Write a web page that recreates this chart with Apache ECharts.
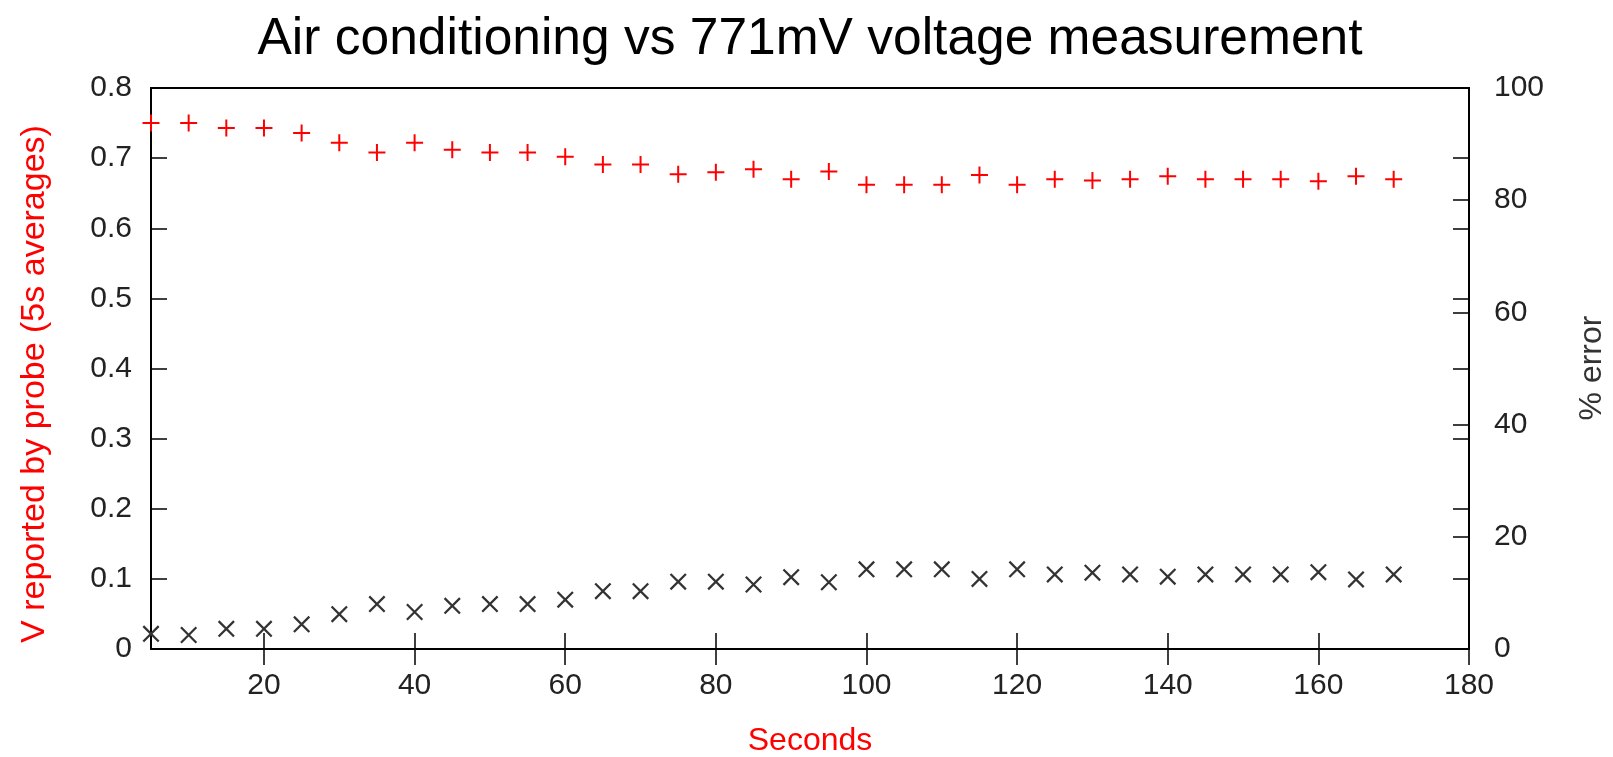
<!DOCTYPE html>
<html>
<head>
<meta charset="utf-8">
<script src="https://cdn.jsdelivr.net/npm/echarts@6/dist/echarts.min.js"></script>
<style>
html,body{margin:0;padding:0;background:#fff;}
#chart{width:1613px;height:757px;}
</style>
</head>
<body>
<div id="chart"></div>
<script>
// ---- data ----
var seconds = [5,10,15,20,25,30,35,40,45,50,55,60,65,70,75,80,85,90,95,100,105,110,115,120,125,130,135,140,145,150,155,160,165,170];
var voltage = [0.750,0.750,0.743,0.743,0.736,0.722,0.708,0.722,0.712,0.708,0.708,0.702,0.691,0.691,0.677,0.680,0.684,0.670,0.681,0.662,0.662,0.662,0.676,0.662,0.670,0.668,0.670,0.674,0.670,0.670,0.670,0.667,0.674,0.670];
var errorPct = [2.7,2.5,3.6,3.6,4.4,6.2,8.0,6.6,7.7,8.0,8.0,8.8,10.3,10.3,12.0,12.0,11.5,12.8,11.9,14.2,14.2,14.2,12.5,14.2,13.3,13.6,13.3,12.9,13.3,13.3,13.3,13.7,12.4,13.3];
var xTicks = [20,40,60,80,100,120,140,160,180];
var titleText = 'Air conditioning vs 771mV voltage measurement';
var xName = 'Seconds';
var yName = 'V reported by probe (5s averages)';
var y2Name = '% error';

var FONT = 'Liberation Sans, Arial, sans-serif';
var PLUS = 'path://M0,7.5 H17 V9.5 H0 Z M7.5,0 H9.5 V17 H7.5 Z';
var CROSS = 'path://M0,1.5 L1.5,0 L16,14.5 L14.5,16 Z M14.5,0 L16,1.5 L1.5,16 L0,14.5 Z';

var chart = echarts.init(document.getElementById('chart'), null, {renderer:'canvas'});
var tickStyle = {color:'#000', width:1.5};
var labelStyle = {color:'#222', fontSize:30, fontFamily:FONT};

chart.setOption({
  animation:false,
  backgroundColor:'#fff',
  title:{text:titleText, left:810, textAlign:'center', top:14, padding:0,
    textStyle:{fontSize:51.5, fontWeight:'normal', color:'#000', fontFamily:FONT}},
  grid:{left:151, right:144, top:88, bottom:108, show:true, borderColor:'#000', borderWidth:2, backgroundColor:'transparent'},
  xAxis:[
    {type:'value', min:5, max:180, position:'bottom',
     axisLine:{show:false}, splitLine:{show:false},
     axisTick:{show:true, inside:true, length:16, lineStyle:tickStyle, customValues:xTicks},
     axisLabel:Object.assign({margin:22, customValues:xTicks}, labelStyle)},
    {type:'value', min:5, max:180, position:'top',
     axisLine:{show:false}, splitLine:{show:false},
     axisTick:{show:true, inside:true, length:16, lineStyle:tickStyle, customValues:xTicks},
     axisLabel:{show:false}}
  ],
  yAxis:[
    {type:'value', min:0, max:0.8, interval:0.1, position:'left',
     axisLine:{show:false}, splitLine:{show:false},
     axisTick:{show:true, inside:true, length:16, lineStyle:tickStyle},
     axisLabel:Object.assign({margin:19, formatter:function(v){return v===0?'0':v.toFixed(1);}}, labelStyle)},
    {type:'value', min:0, max:100, interval:20, position:'right',
     axisLine:{show:false}, splitLine:{show:false},
     axisTick:{show:true, inside:true, length:16, lineStyle:tickStyle},
     axisLabel:Object.assign({margin:25}, labelStyle)},
    {type:'value', min:0, max:0.8, interval:0.1, position:'right',
     axisLine:{show:false}, splitLine:{show:false},
     axisTick:{show:true, inside:true, length:16, lineStyle:tickStyle},
     axisLabel:{show:false}}
  ],
  graphic:[
    {type:'text', x:810, y:741, style:{text:xName, fill:'#ff0000', font:'32px '+FONT, textAlign:'center', textVerticalAlign:'middle'}},
    {type:'text', x:35, y:384, rotation:Math.PI/2, style:{text:yName, fill:'#ff0000', font:'34px '+FONT, textAlign:'center', textVerticalAlign:'middle'}},
    {type:'text', x:1592, y:368, rotation:Math.PI/2, style:{text:y2Name, fill:'#333', font:'32px '+FONT, textAlign:'center', textVerticalAlign:'middle'}}
  ],
  series:[
    {type:'scatter', name:'V', xAxisIndex:0, yAxisIndex:0, clip:false,
     symbol:PLUS, symbolSize:17, itemStyle:{color:'#ff0000', opacity:1},
     data:seconds.map(function(s,i){return [s, voltage[i]];})},
    {type:'scatter', name:'err', xAxisIndex:0, yAxisIndex:1, clip:false,
     symbol:CROSS, symbolSize:17, itemStyle:{color:'#333', opacity:1},
     data:seconds.map(function(s,i){return [s, errorPct[i]];})}
  ]
});
</script>
</body>
</html>
